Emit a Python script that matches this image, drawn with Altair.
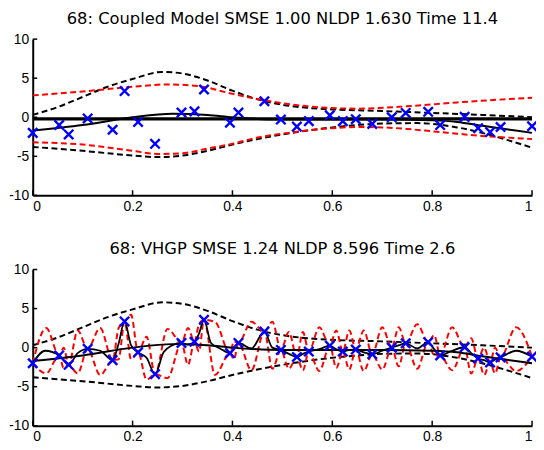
import altair as alt
import pandas as pd

# ---- observations (blue crosses), same in both panels ----
obs_x = [0.0, 0.053, 0.072, 0.11, 0.16, 0.184, 0.211, 0.245, 0.298, 0.324, 0.343, 0.395, 0.412, 0.464, 0.497,
         0.529, 0.553, 0.595, 0.621, 0.647, 0.680, 0.719, 0.747, 0.792, 0.816, 0.865, 0.892, 0.916, 0.937, 1.0]
obs_y = [-2.0, -1.0, -2.2, -0.15, -1.6, 3.35, -0.6, -3.4, 0.6, 0.75, 3.55, -0.7, 0.6, 2.05, -0.3,
         -1.2, -0.5, 0.25, -0.5, -0.25, -0.85, 0.0, 0.55, 0.7, -1.0, 0.05, -1.4, -1.9, -1.25, -1.15]

# ---- black dashed envelope (both panels) ----
env_x = [0, 0.05, 0.1, 0.15, 0.2, 0.26, 0.3, 0.35, 0.4, 0.45, 0.5, 0.55, 0.6, 0.7, 0.8, 0.9, 1.0]
env_up = [0.3, 1.3, 2.6, 3.9, 4.9, 5.8, 5.6, 4.7, 3.4, 2.3, 1.6, 1.2, 1.0, 0.8, 0.55, 0.3, 0.0]
envl_x = [0, 0.1, 0.2, 0.25, 0.3, 0.35, 0.4, 0.45, 0.5, 0.55, 0.6, 0.65, 0.7, 0.77, 0.85, 0.9, 0.95, 1.0]
env_lo = [-3.8, -4.3, -4.9, -5.1, -4.9, -4.3, -3.5, -2.8, -2.2, -1.7, -1.3, -1.0, -0.8, -0.75, -1.3, -2.0, -2.9, -3.9]

# ---- smooth black mean (both panels) ----
smooth_x = [0, 0.1, 0.2, 0.28, 0.35, 0.4, 0.5, 0.6, 0.7, 0.8, 0.85, 0.9, 1.0]
smooth_y = [-1.7, -1.0, 0.0, 0.45, 0.3, 0.0, -0.3, -0.3, -0.3, -0.4, -0.6, -1.1, -2.0]

# ---- top panel: thick flat mean and red dashed bounds ----
flat_x = [0, 1]
flat_y = [-0.2, -0.2]
redT_x = [0, 0.1, 0.2, 0.27, 0.33, 0.4, 0.47, 0.55, 0.65, 0.75, 0.85, 1.0]
redT_up = [2.8, 3.3, 3.9, 4.2, 4.0, 3.0, 2.1, 1.4, 1.1, 1.4, 1.9, 2.5]
redTl_x = [0, 0.1, 0.2, 0.25, 0.3, 0.35, 0.4, 0.45, 0.5, 0.55, 0.6, 0.65, 0.7, 0.75, 0.8, 0.85, 0.9, 0.95, 1.0]
redT_lo = [-3.2, -3.5, -4.3, -4.7, -4.6, -4.0, -3.4, -2.6, -2.1, -1.7, -1.4, -1.25, -1.3, -1.5, -1.8, -2.1, -2.4, -2.6, -2.8]

# ---- bottom panel: wiggly mean and oscillating red bounds ----
wig_x = [0, 0.025, 0.053, 0.072, 0.09, 0.11, 0.135, 0.16, 0.172, 0.184, 0.197, 0.211, 0.228, 0.245, 0.262,
         0.28, 0.298, 0.311, 0.324, 0.333, 0.343, 0.357, 0.375, 0.395, 0.412, 0.438, 0.464, 0.48, 0.497,
         0.513, 0.529, 0.541, 0.553, 0.574, 0.595, 0.608, 0.621, 0.634, 0.647, 0.663, 0.680, 0.70, 0.719,
         0.733, 0.747, 0.77, 0.792, 0.804, 0.816, 0.84, 0.865, 0.878, 0.892, 0.904, 0.916, 0.926, 0.937, 0.968, 1.0]
wig_y = [-2.0, -0.4, -1.0, -2.2, -0.7, -0.15, -0.4, -1.6, 0.5, 3.35, 0.3, -0.6, -1.3, -3.4, -0.6,
         0.3, 0.6, 0.4, 0.75, 1.8, 3.55, 0.6, -0.1, -0.7, 0.6, -0.1, 2.05, 0.0, -0.3,
         -0.8, -1.2, -0.8, -0.5, -0.2, 0.25, -0.2, -0.5, -0.3, -0.25, -0.6, -0.85, -0.4, 0.0,
         0.3, 0.55, -0.1, 0.7, -0.2, -1.0, -0.4, 0.05, -0.7, -1.4, -1.6, -1.9, -1.5, -1.25, -0.4, -1.15]

red_mid_x = [0.027, 0.062, 0.09, 0.135, 0.172, 0.197, 0.228, 0.27, 0.311, 0.333, 0.365, 0.403, 0.438, 0.48,
             0.513, 0.541, 0.574, 0.608, 0.634, 0.663, 0.70, 0.733, 0.77, 0.804, 0.84, 0.878, 0.904, 0.926, 0.968]
red_mid_up = [2.5, 0.0, 2.2, 2.5, 2.5, 4.2, 1.4, 2.4, 2.5, 3.0, 3.3, 0.8, 3.3, 3.3,
              2.0, 2.0, 2.6, 2.2, 2.2, 2.2, 2.6, 2.6, 3.0, 1.6, 2.6, 1.2, 0.0, 0.0, 2.6]
red_mid_lo = [-3.3, -2.6, -3.3, -3.5, -1.5, -1.5, -4.1, -3.9, -2.2, -0.5, -3.5, -1.5, -2.9, -2.7,
              -2.7, -2.9, -3.0, -2.6, -2.8, -3.0, -2.8, -2.4, -2.7, -1.0, -2.9, -3.3, -3.5, -3.3, -3.0]

x_ticks = [0, 0.2, 0.4, 0.6, 0.8, 1]
y_ticks = [-10, -5, 0, 5, 10]

title_top = "68: Coupled Model SMSE 1.00 NLDP 1.630 Time 11.4"
title_bot = "68: VHGP SMSE 1.24 NLDP 8.596 Time 2.6"

FONT = "Liberation Sans"
TFONT = "DejaVu Sans"
xscale = alt.Scale(domain=[0, 1], nice=False, zero=False)
yscale = alt.Scale(domain=[-10, 10], nice=False, zero=False)
xaxis = alt.Axis(values=x_ticks, title=None, ticks=False, grid=False, labelPadding=4, format="~g")
yaxis = alt.Axis(values=y_ticks, title=None, ticks=False, grid=False, labelPadding=4,
                 labelExpr="'' + datum.value")


def enc(ch):
    return ch.encode(
        x=alt.X("x:Q", scale=xscale, axis=xaxis),
        y=alt.Y("y:Q", scale=yscale, axis=yaxis),
    )


def line(xs, ys, color, width, dash=None, interp="monotone"):
    df = pd.DataFrame({"x": xs, "y": ys})
    kw = dict(color=color, strokeWidth=width, interpolate=interp, clip=True)
    if dash:
        kw["strokeDash"] = dash
    return enc(alt.Chart(df).mark_line(**kw))


def points():
    df = pd.DataFrame({"x": obs_x, "y": obs_y})
    return enc(alt.Chart(df).mark_point(
        shape="M-1,-1L1,1M-1,1L1,-1", filled=False, color="#0000ff",
        strokeWidth=2.4, size=90, opacity=1, clip=False))


def inner_ticks():
    xt = pd.DataFrame({"x": x_ticks, "y": [-10] * len(x_ticks), "y2": [-9.35] * len(x_ticks)})
    yt = pd.DataFrame({"x": [0] * len(y_ticks), "x2": [0.009] * len(y_ticks), "y": y_ticks})
    a = alt.Chart(xt).mark_rule(color="black", strokeWidth=1.5).encode(
        x=alt.X("x:Q", scale=xscale, axis=xaxis),
        y=alt.Y("y:Q", scale=yscale, axis=yaxis), y2="y2:Q")
    b = alt.Chart(yt).mark_rule(color="black", strokeWidth=1.5).encode(
        x=alt.X("x:Q", scale=xscale, axis=xaxis), x2="x2:Q",
        y=alt.Y("y:Q", scale=yscale, axis=yaxis))
    return [a, b]


def merge_red(mid_vals):
    xs = list(obs_x) + list(red_mid_x)
    ys = list(obs_y) + list(mid_vals)
    order = sorted(range(len(xs)), key=lambda i: xs[i])
    return [xs[i] for i in order], [ys[i] for i in order]


DASH = [6, 3.5]
top_layers = inner_ticks() + [
    line(env_x, env_up, "black", 2, DASH),
    line(envl_x, env_lo, "black", 2, DASH),
    line(redT_x, redT_up, "#ff0000", 2, DASH),
    line(redTl_x, redT_lo, "#ff0000", 2, DASH),
    line(flat_x, flat_y, "black", 3.2, None, "linear"),
    line(smooth_x, smooth_y, "black", 2),
    points(),
]

ru_x, ru_y = merge_red(red_mid_up)
rl_x, rl_y = merge_red(red_mid_lo)
bot_layers = inner_ticks() + [
    line(env_x, env_up, "black", 2, DASH),
    line(envl_x, env_lo, "black", 2, DASH),
    line(ru_x, ru_y, "#ff0000", 2, DASH),
    line(rl_x, rl_y, "#ff0000", 2, DASH),
    line(smooth_x, smooth_y, "black", 2),
    line(wig_x, wig_y, "black", 1.8),
    points(),
]

W, H = 505, 158
TT = dict(fontSize=16.5, font=TFONT, fontWeight="normal", offset=5)
top = alt.layer(*top_layers).properties(width=W, height=H, title=alt.TitleParams(title_top, **TT))
bot = alt.layer(*bot_layers).properties(width=W, height=H, title=alt.TitleParams(title_bot, **TT))

chart = alt.vconcat(top, bot, spacing=28).properties(
    padding={"left": 0, "top": 0, "right": -6, "bottom": 0}
).configure_view(
    stroke=None
).configure_axis(
    domainColor="black", domainWidth=2, labelColor="black", labelFont=FONT, labelFontSize=14
).configure_title(color="black", anchor="middle")

chart.save("out.html", embed_options={"renderer": "svg", "actions": False})
